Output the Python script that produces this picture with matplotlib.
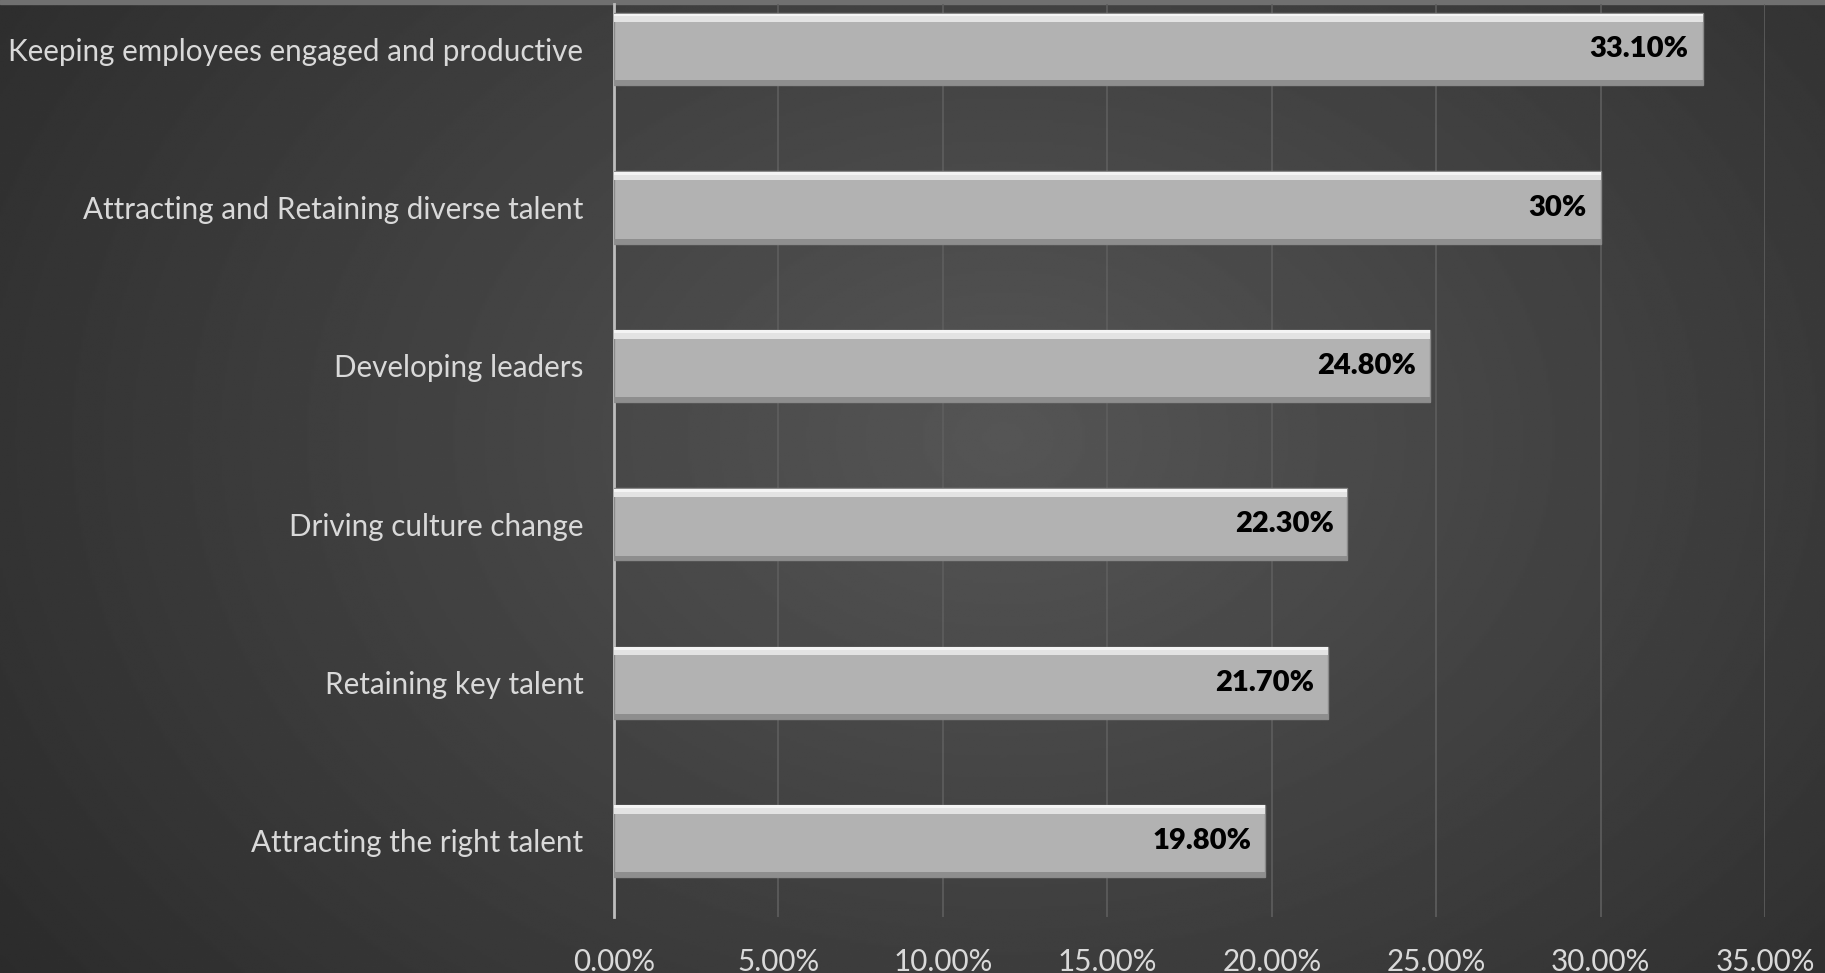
import numpy as np
import matplotlib.pyplot as plt
from matplotlib.ticker import FuncFormatter

plt.rcParams['font.family'] = ['Lato', 'DejaVu Sans']

categories = ['Attracting the right talent', 'Retaining key talent', 'Driving culture change',
              'Developing leaders', 'Attracting and Retaining diverse talent',
              'Keeping employees engaged and productive']
values = [19.8, 21.7, 22.3, 24.8, 30.0, 33.1]
value_labels = ['19.80%', '21.70%', '22.30%', '24.80%', '30%', '33.10%']
xticks = [0, 5, 10, 15, 20, 25, 30, 35]

W, H = 1825, 973
fig = plt.figure(figsize=(W / 100, H / 100), dpi=100)

# background radial gradient
bg = fig.add_axes([0, 0, 1, 1])
yy, xx = np.mgrid[0:1:400j, 0:1:800j]
r = np.sqrt(((xx - 0.55) / 0.72) ** 2 + ((yy - 0.55) / 1.0) ** 2)
shade = 0.335 - 0.175 * np.clip(r, 0, 1)
bg.imshow(shade, cmap='gray', vmin=0, vmax=1, aspect='auto', extent=[0, 1, 0, 1], origin='lower')
bg.axhspan(0.996, 1.0, color='#707070')
bg.set_xlim(0, 1)
bg.set_ylim(0, 1)
bg.axis('off')

ax = fig.add_axes([614 / W, 56 / H, (1765 - 614) / W, (917 - 4) / H])
ax.patch.set_alpha(0)
y = np.arange(len(categories))
bh = 0.455

ax.barh(y, values, height=bh, color='#b2b2b2', edgecolor='#8a8a8a', linewidth=1, zorder=3)
# bevel highlights
ax.barh(y + bh / 2 - 0.03, values, height=0.05, color='#e3e3e3', linewidth=0, zorder=4)
ax.barh(y + bh / 2 - 0.012, values, height=0.018, color='#f4f4f4', linewidth=0, zorder=4)
ax.barh(y - bh / 2 + 0.015, values, height=0.03, color='#8e8e8e', linewidth=0, zorder=4)

for yi, v, lab in zip(y, values, value_labels):
    ax.text(v - 0.42, yi, lab, ha='right', va='center', fontsize=21, fontweight='heavy',
            color='black', zorder=5)

ax.set_xlim(0, 35)
ax.set_ylim(-0.48, 5.285)
ax.set_xticks(xticks)
ax.xaxis.set_major_formatter(FuncFormatter(lambda v, p: f'{v:.2f}%'))
ax.set_yticks(y)
ax.set_yticklabels(categories)
ax.tick_params(axis='both', length=0, labelsize=21.3, colors='#d9d9d9')
ax.tick_params(axis='x', pad=22)
ax.tick_params(axis='y', pad=22)
ax.grid(axis='x', color='#5e5e5e', linewidth=1.2, zorder=0)
ax.set_axisbelow(True)
for s in ['top', 'right', 'bottom']:
    ax.spines[s].set_visible(False)
ax.spines['left'].set_color('#bdbdbd')
ax.spines['left'].set_linewidth(2)

fig.savefig('out.png', dpi=100)
